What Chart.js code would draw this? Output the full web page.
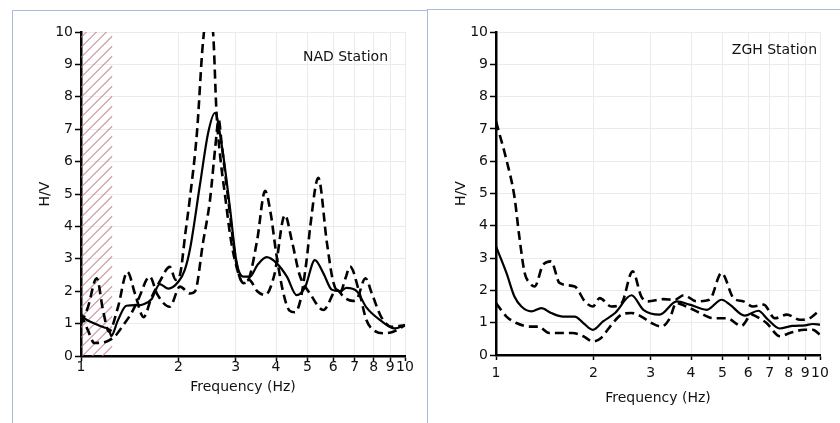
<!DOCTYPE html>
<html><head><meta charset="utf-8">
<script src="https://cdn.jsdelivr.net/npm/chart.js@4.4.1/dist/chart.umd.min.js"></script>
<style>
html,body{margin:0;padding:0;background:#fff;}
#wrap{position:relative;width:840px;height:423px;overflow:hidden;}
canvas{position:absolute;top:0;}
.panel{position:absolute;border-left:1px solid #a9bcd9;border-top:1px solid #a9bcd9;}
</style></head><body>
<div id="wrap">
<div class="panel" style="left:12px;top:10px;width:414px;height:440px"></div>
<div class="panel" style="left:427px;top:9px;width:440px;height:440px"></div>
<canvas id="nad" width="420" height="423" style="left:0"></canvas>
<canvas id="zgh" width="420" height="423" style="left:420px"></canvas>
</div>
<script>
// ---- axis ticks ----
const xTicks = [1, 2, 3, 4, 5, 6, 7, 8, 9, 10];
const yMin = 0, yMax = 10;
const xLabel = 'Frequency (Hz)';
const yLabel = 'H/V';

// ---- NAD station ----
const nadTitle = 'NAD Station';
const nadHatchEnd = 1.25;
const nadFreqMean = [1.0,1.04,1.1,1.18,1.22,1.24,1.3,1.38,1.5,1.56,1.65,1.75,1.86,2.0,2.09,2.17,2.33,2.47,2.59,2.72,2.88,3.02,3.17,3.32,3.5,3.74,4.02,4.32,4.63,4.92,5.27,5.6,5.94,6.3,6.6,7.1,7.6,8.4,9.3,10];
const nadMean     = [1.25,1.12,1.0,0.88,0.82,0.62,1.1,1.55,1.57,1.6,1.75,2.22,2.08,2.3,2.65,3.3,5.3,6.9,7.5,6.5,4.6,2.9,2.45,2.45,2.8,3.05,2.86,2.45,1.88,2.13,2.96,2.55,2.05,2.0,2.1,2.0,1.5,1.1,0.85,0.95];
const nadFreqUp = [1.0,1.05,1.118,1.17,1.22,1.3,1.39,1.47,1.56,1.65,1.75,1.88,1.96,2.02,2.1,2.17,2.28,2.38,2.48,2.56,2.62,2.7,2.78,2.9,3.05,3.17,3.3,3.5,3.7,3.85,4.0,4.2,4.4,4.57,4.75,4.97,5.1,5.4,5.74,6.0,6.3,6.55,6.77,7.24,7.6,8.0,8.56,9.2,10];
const nadUp     = [1.0,1.5,2.4,1.4,0.75,1.5,2.6,1.9,1.2,1.8,2.3,2.75,2.35,2.5,3.8,4.9,6.9,9.7,10.8,9.9,7.5,6.0,5.0,3.6,2.6,2.25,2.4,3.6,5.1,4.4,3.2,2.0,1.4,1.35,1.7,2.96,4.0,5.5,3.5,2.3,1.95,2.4,2.76,1.93,1.11,0.8,0.7,0.75,0.95];
const nadFreqLo = [1.0,1.05,1.1,1.2,1.27,1.35,1.43,1.5,1.63,1.72,1.88,2.02,2.17,2.25,2.38,2.5,2.6,2.66,2.72,2.85,3.0,3.15,3.3,3.5,3.7,3.95,4.26,4.47,4.73,5.09,5.6,6.16,6.5,6.9,7.1,7.55,7.9,8.45,9.1,10];
const nadLo     = [1.3,0.8,0.4,0.45,0.6,0.95,1.32,1.73,2.45,1.9,1.52,2.14,1.93,2.0,3.5,4.8,6.5,7.3,6.5,4.8,3.0,2.3,2.35,2.0,1.88,2.5,4.35,3.58,2.5,1.93,1.42,2.04,1.8,1.7,1.75,2.4,1.93,1.2,0.9,0.95];

// ---- ZGH station ----
const zghTitle = 'ZGH Station';
const zghFreqMean = [1.0,1.077,1.14,1.198,1.286,1.38,1.48,1.61,1.75,1.86,1.99,2.14,2.33,2.62,2.85,3.2,3.61,3.96,4.47,4.97,5.27,5.85,6.45,6.9,7.5,8.2,9.0,9.5,10];
const zghMean     = [3.36,2.54,1.81,1.5,1.35,1.45,1.3,1.19,1.19,0.99,0.78,1.04,1.3,1.85,1.4,1.25,1.66,1.56,1.4,1.71,1.56,1.22,1.37,1.1,0.82,0.9,0.92,0.96,0.94];
const zghFreqUp = [1.0,1.077,1.14,1.18,1.226,1.27,1.316,1.397,1.48,1.57,1.75,1.88,1.99,2.09,2.27,2.44,2.64,2.81,2.95,3.28,3.56,3.8,4.16,4.56,4.97,5.41,5.8,6.22,6.7,7.25,7.9,8.68,9.3,10];
const zghUp     = [7.23,6.04,4.9,3.67,2.54,2.23,2.12,2.79,2.9,2.23,2.12,1.66,1.5,1.76,1.5,1.6,2.59,1.81,1.66,1.73,1.71,1.85,1.66,1.71,2.54,1.76,1.66,1.5,1.56,1.14,1.25,1.09,1.14,1.4];
const zghFreqLo = [1.0,1.077,1.156,1.27,1.35,1.46,1.61,1.72,1.86,1.99,2.11,2.25,2.44,2.62,2.81,3.02,3.24,3.44,3.6,3.87,4.26,4.68,5.15,5.72,6.15,6.37,6.84,7.53,8.07,8.94,9.5,10];
const zghLo     = [1.61,1.19,0.99,0.88,0.88,0.68,0.68,0.68,0.58,0.42,0.53,0.88,1.25,1.3,1.19,0.99,0.88,1.14,1.61,1.5,1.3,1.14,1.14,0.9,1.25,1.19,0.99,0.58,0.68,0.78,0.78,0.63];

function pts(f, v) { return f.map((x, i) => ({ x: x, y: v[i] })); }

const FONT = 'DejaVu Sans';
const TXT = '#111';

const hatchPlugin = {
  id: 'hatch',
  beforeDatasetsDraw(chart, args, o) {
    if (!o || !o.to) return;
    const { ctx, chartArea: a, scales: { x } } = chart;
    const x0 = x.getPixelForValue(o.from), x1 = x.getPixelForValue(o.to);
    const w = x1 - x0;
    ctx.save();
    ctx.beginPath(); ctx.rect(x0, a.top, w, a.bottom - a.top); ctx.clip();
    ctx.beginPath();
    ctx.strokeStyle = o.color; ctx.lineWidth = 1.2;
    for (let y = a.bottom + w; y > a.top - 2; y -= o.gap) {
      ctx.moveTo(x0, y); ctx.lineTo(x1, y - w);
    }
    ctx.stroke();
    ctx.restore();
  }
};
const labelPlugin = {
  id: 'stationLabel',
  afterDraw(chart, args, o) {
    const ctx = chart.ctx;
    ctx.save();
    ctx.font = '14px "' + FONT + '"';
    ctx.fillStyle = TXT;
    ctx.textAlign = 'right';
    ctx.textBaseline = 'middle';
    ctx.fillText(o.text, o.x, o.y);
    ctx.restore();
  }
};

function makeChart(id, mean, up, lo, label, hatch, g) {
  const dashed = { borderColor: '#000', borderWidth: 2.6, borderDash: [9, 5], pointRadius: 0, cubicInterpolationMode: 'monotone', clip: 0, fill: false };
  return new Chart(document.getElementById(id), {
    type: 'line',
    data: {
      datasets: [
        Object.assign({ label: 'upper', data: up }, dashed),
        Object.assign({ label: 'lower', data: lo }, dashed),
        { label: 'mean', data: mean, borderColor: '#000', borderWidth: 2.2, pointRadius: 0, cubicInterpolationMode: 'monotone', clip: 0, fill: false }
      ]
    },
    plugins: [hatchPlugin, labelPlugin],
    options: {
      responsive: false, animation: false, devicePixelRatio: 1,
      layout: { padding: { left: 0, right: g.pr, top: 32, bottom: 0 } },
      plugins: {
        legend: { display: false }, tooltip: { enabled: false },
        hatch: hatch ? { from: 1, to: hatch, color: 'rgba(190,125,140,0.75)', gap: 10 } : {},
        stationLabel: { text: label, x: g.lx, y: g.ly }
      },
      scales: {
        x: {
          type: 'logarithmic', min: xTicks[0], max: xTicks[xTicks.length - 1],
          afterBuildTicks: s => { s.ticks = xTicks.map(v => ({ value: v })); },
          afterFit: s => { s.height = g.xh; },
          ticks: { autoSkip: false, maxRotation: 0, color: TXT, padding: g.xtp, font: { family: FONT, size: 14, lineHeight: 1 }, callback: v => String(v) },
          grid: { color: '#ebebeb', lineWidth: 1, tickColor: '#000', tickLength: 5, tickWidth: 1.5 },
          border: { color: '#000', width: 2.5 },
          title: { display: true, text: xLabel, color: TXT, font: { family: FONT, size: 14, lineHeight: 1.2 }, padding: { top: 0, bottom: g.xtb } }
        },
        y: {
          type: 'linear', min: yMin, max: yMax,
          afterFit: s => { s.width = g.yw; },
          ticks: { stepSize: 1, color: TXT, padding: 2, font: { family: FONT, size: 14, lineHeight: 1 } },
          grid: { color: '#ebebeb', lineWidth: 1, tickColor: '#000', tickLength: 6, tickWidth: 1.5 },
          border: { color: '#000', width: 2.5 },
          title: { display: true, text: yLabel, color: TXT, font: { family: FONT, size: 14, lineHeight: 1.2 }, padding: { top: g.ytp, bottom: 0 } }
        }
      }
    }
  });
}

makeChart('nad', pts(nadFreqMean, nadMean), pts(nadFreqUp, nadUp), pts(nadFreqLo, nadLo), nadTitle, nadHatchEnd,
  { pr: 15, yw: 81, xh: 67, xtp: -1, xtb: 27.6, ytp: 36.6, lx: 388, ly: 57 });
makeChart('zgh', pts(zghFreqMean, zghMean), pts(zghFreqUp, zghUp), pts(zghFreqLo, zghLo), zghTitle, null,
  { pr: 20, yw: 76, xh: 68, xtp: 6, xtb: 16.6, ytp: 33.3, lx: 397, ly: 50 });
</script>
</body></html>
